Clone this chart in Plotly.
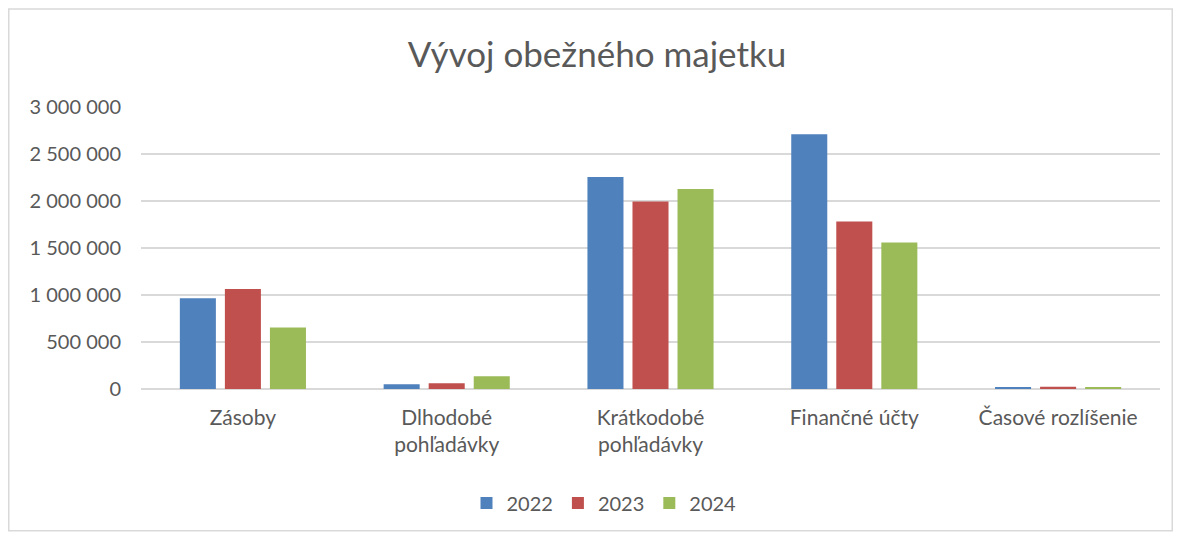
import plotly.graph_objects as go

categories = ["Zásoby", "Dlhodobé<br>pohľadávky", "Krátkodobé<br>pohľadávky", "Finančné účty", "Časové rozlíšenie"]
years = ["2022", "2023", "2024"]
v2022 = [965000, 50000, 2255000, 2711000, 15000]
v2023 = [1063000, 60000, 1996000, 1781000, 25000]
v2024 = [654000, 135000, 2127000, 1558000, 22000]
colors = ["#4F81BD", "#C0504D", "#9BBB59"]
tickvals = [0, 500000, 1000000, 1500000, 2000000, 2500000, 3000000]
ticktext = ["0", "500 000", "1 000 000", "1 500 000", "2 000 000", "2 500 000", "3 000 000"]

fig = go.Figure()
for name, vals, c in zip(years, [v2022, v2023, v2024], colors):
    fig.add_trace(go.Bar(x=categories, y=vals, name=name, marker=dict(color=c, line=dict(width=0))))

# page has an 8px body margin; work in figure coordinates (page - 8)
OFF = 8
W, H = 1165, 525
L, R, T, B = 141 - OFF, 1160 - OFF, 107 - OFF, 390 - OFF
pw, ph = R - L, B - T

def px(x):
    return (x - OFF - L) / pw

def py(y):
    return (B - (y - OFF)) / ph

fig.update_layout(
    width=W, height=H,
    margin=dict(l=L, r=W - R, t=T, b=H - B),
    paper_bgcolor="white", plot_bgcolor="white",
    font=dict(family="Lato, Carlito, sans-serif", color="#595959", size=20),
    title=dict(text="Vývoj obežného majetku", x=px(597), xanchor="center", xref="paper",
               y=1 - (55 - OFF) / H, yanchor="middle",
               font=dict(size=35, color="#595959")),
    barmode="group", bargap=0.337, bargroupgap=0.2,
    showlegend=True,
    legend=dict(orientation="h", x=px(604), xanchor="center", y=py(503), yanchor="middle",
                font=dict(size=20, color="#595959"), itemwidth=30, traceorder="normal"),
    xaxis=dict(showgrid=False, ticks="", showline=False, tickfont=dict(size=21), automargin=False,
               ticklabelstandoff=14),
    yaxis=dict(range=[0, 3000000], tickvals=tickvals, ticktext=ticktext, showgrid=True,
               gridcolor="#D9D9D9", gridwidth=1.5, zeroline=True, zerolinecolor="#D9D9D9",
               zerolinewidth=1.5, showline=False, tickfont=dict(size=20), ticks="", automargin=False,
               ticklabelstandoff=19),
    shapes=[dict(type="rect", xref="paper", yref="paper", x0=px(8.75), x1=px(1172.25), y0=py(532.25), y1=py(8.75),
                 line=dict(color="#D9D9D9", width=1.5), fillcolor="rgba(0,0,0,0)", layer="below")],
)
fig.write_html("out.html")
